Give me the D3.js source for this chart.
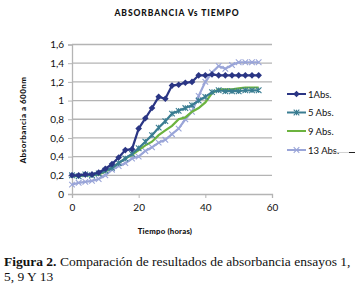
<!DOCTYPE html>
<html><head><meta charset="utf-8">
<script src="https://cdn.jsdelivr.net/npm/d3@7"></script>
<style>body{margin:0;background:#fff}svg{display:block}</style>
</head><body>
<svg id="c" width="356" height="298"></svg>
<script>
const hours = [0,2,4,6,8,10,12,14,16,18,20,22,24,26,28,30,32,34,36,38,40,42,44,46,48,50,52,54,56];
const abs1  = [0.20,0.20,0.21,0.21,0.23,0.27,0.32,0.39,0.47,0.48,0.70,0.81,0.92,1.04,1.02,1.16,1.17,1.19,1.20,1.27,1.27,1.28,1.27,1.27,1.27,1.27,1.27,1.27,1.27];
const abs5  = [0.20,0.19,0.21,0.20,0.22,0.25,0.28,0.33,0.38,0.43,0.49,0.56,0.63,0.71,0.78,0.86,0.89,0.92,0.95,1.00,1.04,1.09,1.11,1.10,1.10,1.10,1.11,1.11,1.11];
const abs9  = [0.19,0.19,0.20,0.20,0.21,0.24,0.28,0.33,0.38,0.42,0.47,0.52,0.56,0.63,0.68,0.73,0.80,0.82,0.88,0.92,0.98,1.08,1.12,1.12,1.12,1.13,1.14,1.14,1.14];
const abs13 = [0.10,0.12,0.13,0.14,0.16,0.20,0.26,0.30,0.33,0.38,0.40,0.46,0.50,0.55,0.58,0.64,0.70,0.80,0.88,1.05,1.20,1.30,1.37,1.34,1.38,1.41,1.41,1.41,1.41];
const seriesNames = ["1Abs.","5 Abs.","9 Abs.","13 Abs."];
const yTicks = [0,0.2,0.4,0.6,0.8,1,1.2,1.4,1.6];
const xTicks = [0,20,40,60];
const title = "ABSORBANCIA Vs TIEMPO";
const xTitle = "Tiempo (horas)";
const yTitle = "Absorbancia a 600nm";
const caption1Bold = "Figura 2.";
const caption1 = " Comparación de resultados de absorbancia ensayos 1,";
const caption2 = "5, 9 Y 13";

const colors = ["#2a3584","#3a7d92","#6cb33f","#9aa5d8"];
const markers = ["diamond","star","none","cross"];
const data = [abs1,abs5,abs9,abs13];

const svg = d3.select("#c");
const x = d3.scaleLinear().domain([0,60]).range([72,272]);
const y = d3.scaleLinear().domain([0,1.6]).range([194,44.5]);
const sans = "'Century Gothic','URW Gothic','Lato','DejaVu Sans',sans-serif";

// gridlines
svg.append("g").selectAll("line").data(yTicks.filter(d=>d>0)).join("line")
  .attr("x1",x(0)).attr("x2",x(60)).attr("y1",d=>y(d)).attr("y2",d=>y(d))
  .attr("stroke","#b4b4b4").attr("stroke-width",1.3);

// y axis
const ya = svg.append("g").attr("transform",`translate(${x(0)},0)`)
  .call(d3.axisLeft(y).tickValues(yTicks).tickSize(4).tickPadding(4)
    .tickFormat(d=> d===0?"0":(d===1?"1":d3.format(".1f")(d).replace(".",","))));
ya.select(".domain").attr("stroke","#b4b4b4").attr("stroke-width",1.3);
ya.selectAll(".tick line").attr("stroke","#b4b4b4");
ya.selectAll("text").attr("font-family",sans).attr("font-size",10).attr("fill","#111");

// x axis
const xa = svg.append("g").attr("transform",`translate(0,${y(0)})`)
  .call(d3.axisBottom(x).tickValues(xTicks).tickSize(4).tickPadding(6).tickFormat(d3.format("d")));
xa.select(".domain").attr("stroke","#b4b4b4").attr("stroke-width",1.3);
xa.selectAll(".tick line").attr("stroke","#b4b4b4");
xa.selectAll("text").attr("font-family",sans).attr("font-size",10).attr("fill","#111");

// lines
const line = d3.line().x((d,i)=>x(hours[i])).y(d=>y(d));
const drawOrder = [3,2,1,0];
function marker(g, type, cx, cy, col){
  if(type==="diamond"){
    g.append("path").attr("d",`M${cx},${cy-3.3}L${cx+3.3},${cy}L${cx},${cy+3.3}L${cx-3.3},${cy}Z`).attr("fill",col);
  } else if(type==="star"||type==="cross"){
    const s=2.8;
    g.append("path").attr("d",`M${cx-s},${cy-s}L${cx+s},${cy+s}M${cx-s},${cy+s}L${cx+s},${cy-s}`+(type==="star"?`M${cx},${cy-s}L${cx},${cy+s}`:""))
      .attr("stroke",col).attr("stroke-width",1.1).attr("fill","none");
  }
}
drawOrder.forEach(k=>{
  const g = svg.append("g");
  g.append("path").datum(data[k]).attr("d",line).attr("fill","none")
    .attr("stroke",colors[k]).attr("stroke-width",2.2);
  data[k].forEach((v,i)=>marker(g,markers[k],x(hours[i]),y(v),colors[k]));
});

// legend
const ly = [94,112.5,131,150];
seriesNames.forEach((n,k)=>{
  const g = svg.append("g");
  g.append("line").attr("x1",287).attr("x2",306).attr("y1",ly[k]).attr("y2",ly[k])
    .attr("stroke",colors[k]).attr("stroke-width",2);
  marker(g,markers[k],296.5,ly[k],colors[k]);
  g.append("text").attr("x",308).attr("y",ly[k]+3.5).attr("font-family",sans)
    .attr("font-size",9.5).attr("fill","#111").text(n);
});
svg.append("line").attr("x1",330).attr("x2",349).attr("y1",152.5).attr("y2",152.5).attr("stroke","#c8c8c8").attr("stroke-width",0.8);
svg.append("line").attr("x1",349).attr("x2",355).attr("y1",152.5).attr("y2",152.5).attr("stroke","#222").attr("stroke-width",1);

// titles
svg.append("text").attr("x",177).attr("y",16).attr("text-anchor","middle")
  .attr("font-family",sans).attr("font-weight","900").attr("font-size",8.5).attr("letter-spacing",0.9).attr("fill","#111").text(title);
svg.append("text").attr("x",165).attr("y",234).attr("text-anchor","middle")
  .attr("font-family",sans).attr("font-weight","900").attr("font-size",7.8).attr("letter-spacing",0.2).attr("fill","#111").text(xTitle);
svg.append("text").attr("transform","translate(26,120) rotate(-90)").attr("text-anchor","middle")
  .attr("font-family",sans).attr("font-weight","900").attr("font-size",8).attr("letter-spacing",0.5).attr("fill","#111").text(yTitle);

// caption
const serif = "'Liberation Serif','DejaVu Serif',serif";
const t1 = svg.append("text").attr("x",4).attr("y",266).attr("font-family",serif).attr("font-size",13.5).attr("fill","#111");
t1.append("tspan").attr("font-weight","bold").text(caption1Bold);
t1.append("tspan").text(caption1);
svg.append("text").attr("x",4).attr("y",281).attr("font-family",serif).attr("font-size",13.5).attr("fill","#111").text(caption2);
</script>
</body></html>
